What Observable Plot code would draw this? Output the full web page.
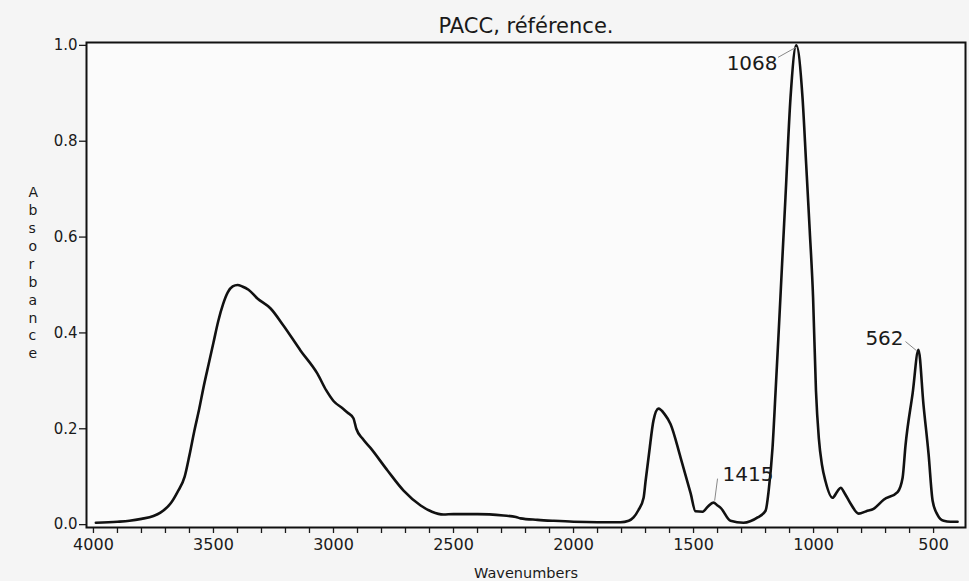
<!DOCTYPE html>
<html>
<head>
<meta charset="utf-8">
<script src="https://cdn.jsdelivr.net/npm/d3@7"></script>
<script src="https://cdn.jsdelivr.net/npm/@observablehq/plot@0.6"></script>
<style>
  html, body { margin: 0; padding: 0; background: #f5f5f5; }
  #chart { width: 969px; height: 581px; }
</style>
</head>
<body>
<div id="chart"></div>
<script>
const titleText = "PACC, référence.";
const xLabel = "Wavenumbers";
const yLabel = "Absorbance";

const wavenumber = [
  3990, 3900, 3850, 3800, 3750, 3721, 3679, 3650, 3620, 3600, 3580, 3560, 3540, 3520,
  3500, 3480, 3460, 3440, 3420, 3400, 3380, 3354, 3317, 3262, 3208, 3137, 3067, 3030,
  3000, 2960, 2942, 2917, 2905, 2880, 2846, 2775, 2708, 2637, 2590, 2542, 2500, 2400,
  2292, 2240, 2221, 2150, 2083, 2000, 1900, 1804, 1770, 1750, 1730, 1708, 1700, 1685,
  1667, 1646, 1620, 1596, 1554, 1512, 1492, 1462, 1440, 1417, 1400, 1387, 1346, 1292,
  1233, 1200, 1187, 1171, 1158, 1145, 1131, 1117, 1096, 1072, 1046, 1031, 1016, 1002,
  990, 978, 965, 950, 921, 900, 887, 870, 846, 812, 780, 750, 708, 650, 629, 617,
  587, 563, 542, 521, 504, 483, 458, 430, 400
];
const absorbance = [
  0.004, 0.006, 0.008, 0.012, 0.018, 0.025, 0.044, 0.068, 0.100, 0.145, 0.195, 0.240, 0.290, 0.335,
  0.380, 0.425, 0.460, 0.485, 0.497, 0.500, 0.497, 0.490, 0.472, 0.451, 0.415, 0.363, 0.315, 0.280,
  0.258, 0.242, 0.234, 0.222, 0.200, 0.180, 0.160, 0.113, 0.071, 0.040, 0.027, 0.021, 0.022, 0.022,
  0.019, 0.016, 0.013, 0.010, 0.008, 0.006, 0.005, 0.005, 0.008, 0.015, 0.030, 0.056, 0.090, 0.150,
  0.217, 0.242, 0.230, 0.210, 0.140, 0.065, 0.028, 0.027, 0.038, 0.046, 0.040, 0.035, 0.008, 0.004,
  0.015, 0.029, 0.071, 0.160, 0.280, 0.405, 0.545, 0.683, 0.891, 1.000, 0.891, 0.754, 0.614, 0.474,
  0.280, 0.180, 0.125, 0.090, 0.056, 0.070, 0.077, 0.065, 0.044, 0.023, 0.028, 0.033, 0.052, 0.068, 0.098, 0.165,
  0.275, 0.365, 0.250, 0.148, 0.050, 0.020, 0.008, 0.006, 0.006
];

const yTicks = [0, 0.2, 0.4, 0.6, 0.8, 1.0];
const xTicks = d3.range(500, 4001, 100);

// peak annotations: label, label anchor point, leader start, leader end (data space)
const annLabels = ["1068", "1415", "562"];
const annTextX = [1150, 1379, 625];
const annTextY = [0.962, 0.104, 0.388];
const annAnchor = ["end", "start", "end"];
const annX1 = [1148, 1400, 617];
const annY1 = [0.975, 0.096, 0.382];
const annX2 = [1073, 1412, 571];
const annY2 = [0.996, 0.050, 0.363];

const spectrum = wavenumber.map((w, i) => ({w, a: absorbance[i]}));
const ann = annLabels.map((t, i) => ({
  t, tx: annTextX[i], ty: annTextY[i], anchor: annAnchor[i],
  x1: annX1[i], y1: annY1[i], x2: annX2[i], y2: annY2[i]
}));

const font = "'DejaVu Sans', Verdana, sans-serif";

const chart = Plot.plot({
  width: 969,
  height: 581,
  marginLeft: 86,
  marginRight: 4,
  marginTop: 42,
  marginBottom: 54,
  style: {background: "#f5f5f5", fontFamily: font, color: "#1a1a1a", overflow: "visible"},
  x: {domain: [4029, 367]},
  y: {domain: [-0.006, 1.006]},
  marks: [
    Plot.frame({fill: "#fbfbfb"}),
    Plot.axisY({ticks: yTicks, tickFormat: d3.format(".1f"), tickSize: 7, tickPadding: 2,
      fontSize: 15, label: null, stroke: "#1a1a1a", strokeWidth: 1.3}),
    Plot.axisX({ticks: xTicks, tickFormat: d => d % 500 === 0 ? String(d) : "", tickSize: 6,
      tickPadding: 5, fontSize: 16, label: null, stroke: "#1a1a1a", strokeWidth: 1.3}),
    Plot.line(spectrum, {x: "w", y: "a", stroke: "#111", strokeWidth: 2.6, curve: "monotone-x"}),
    Plot.link(ann, {x1: "x1", y1: "y1", x2: "x2", y2: "y2", stroke: "#888", strokeWidth: 1}),
    Plot.text(ann.filter(d => d.anchor === "end"), {x: "tx", y: "ty", text: "t", textAnchor: "end",
      fontSize: 20, fill: "#1a1a1a"}),
    Plot.text(ann.filter(d => d.anchor === "start"), {x: "tx", y: "ty", text: "t", textAnchor: "start",
      fontSize: 20, fill: "#1a1a1a"}),
    Plot.frame({stroke: "#111", strokeWidth: 2}),
    Plot.text([titleText], {frameAnchor: "top", dy: -24, fontSize: 21, fill: "#1a1a1a"}),
    Plot.text([xLabel], {frameAnchor: "bottom", dy: 50, fontSize: 14.5, fill: "#1a1a1a"}),
    Plot.text([yLabel.split("").join("\n")], {frameAnchor: "left", dx: -58, dy: -13, fontSize: 14,
      lineHeight: 1.28, fill: "#1a1a1a"})
  ]
});
document.getElementById("chart").appendChild(chart);
</script>
</body>
</html>
